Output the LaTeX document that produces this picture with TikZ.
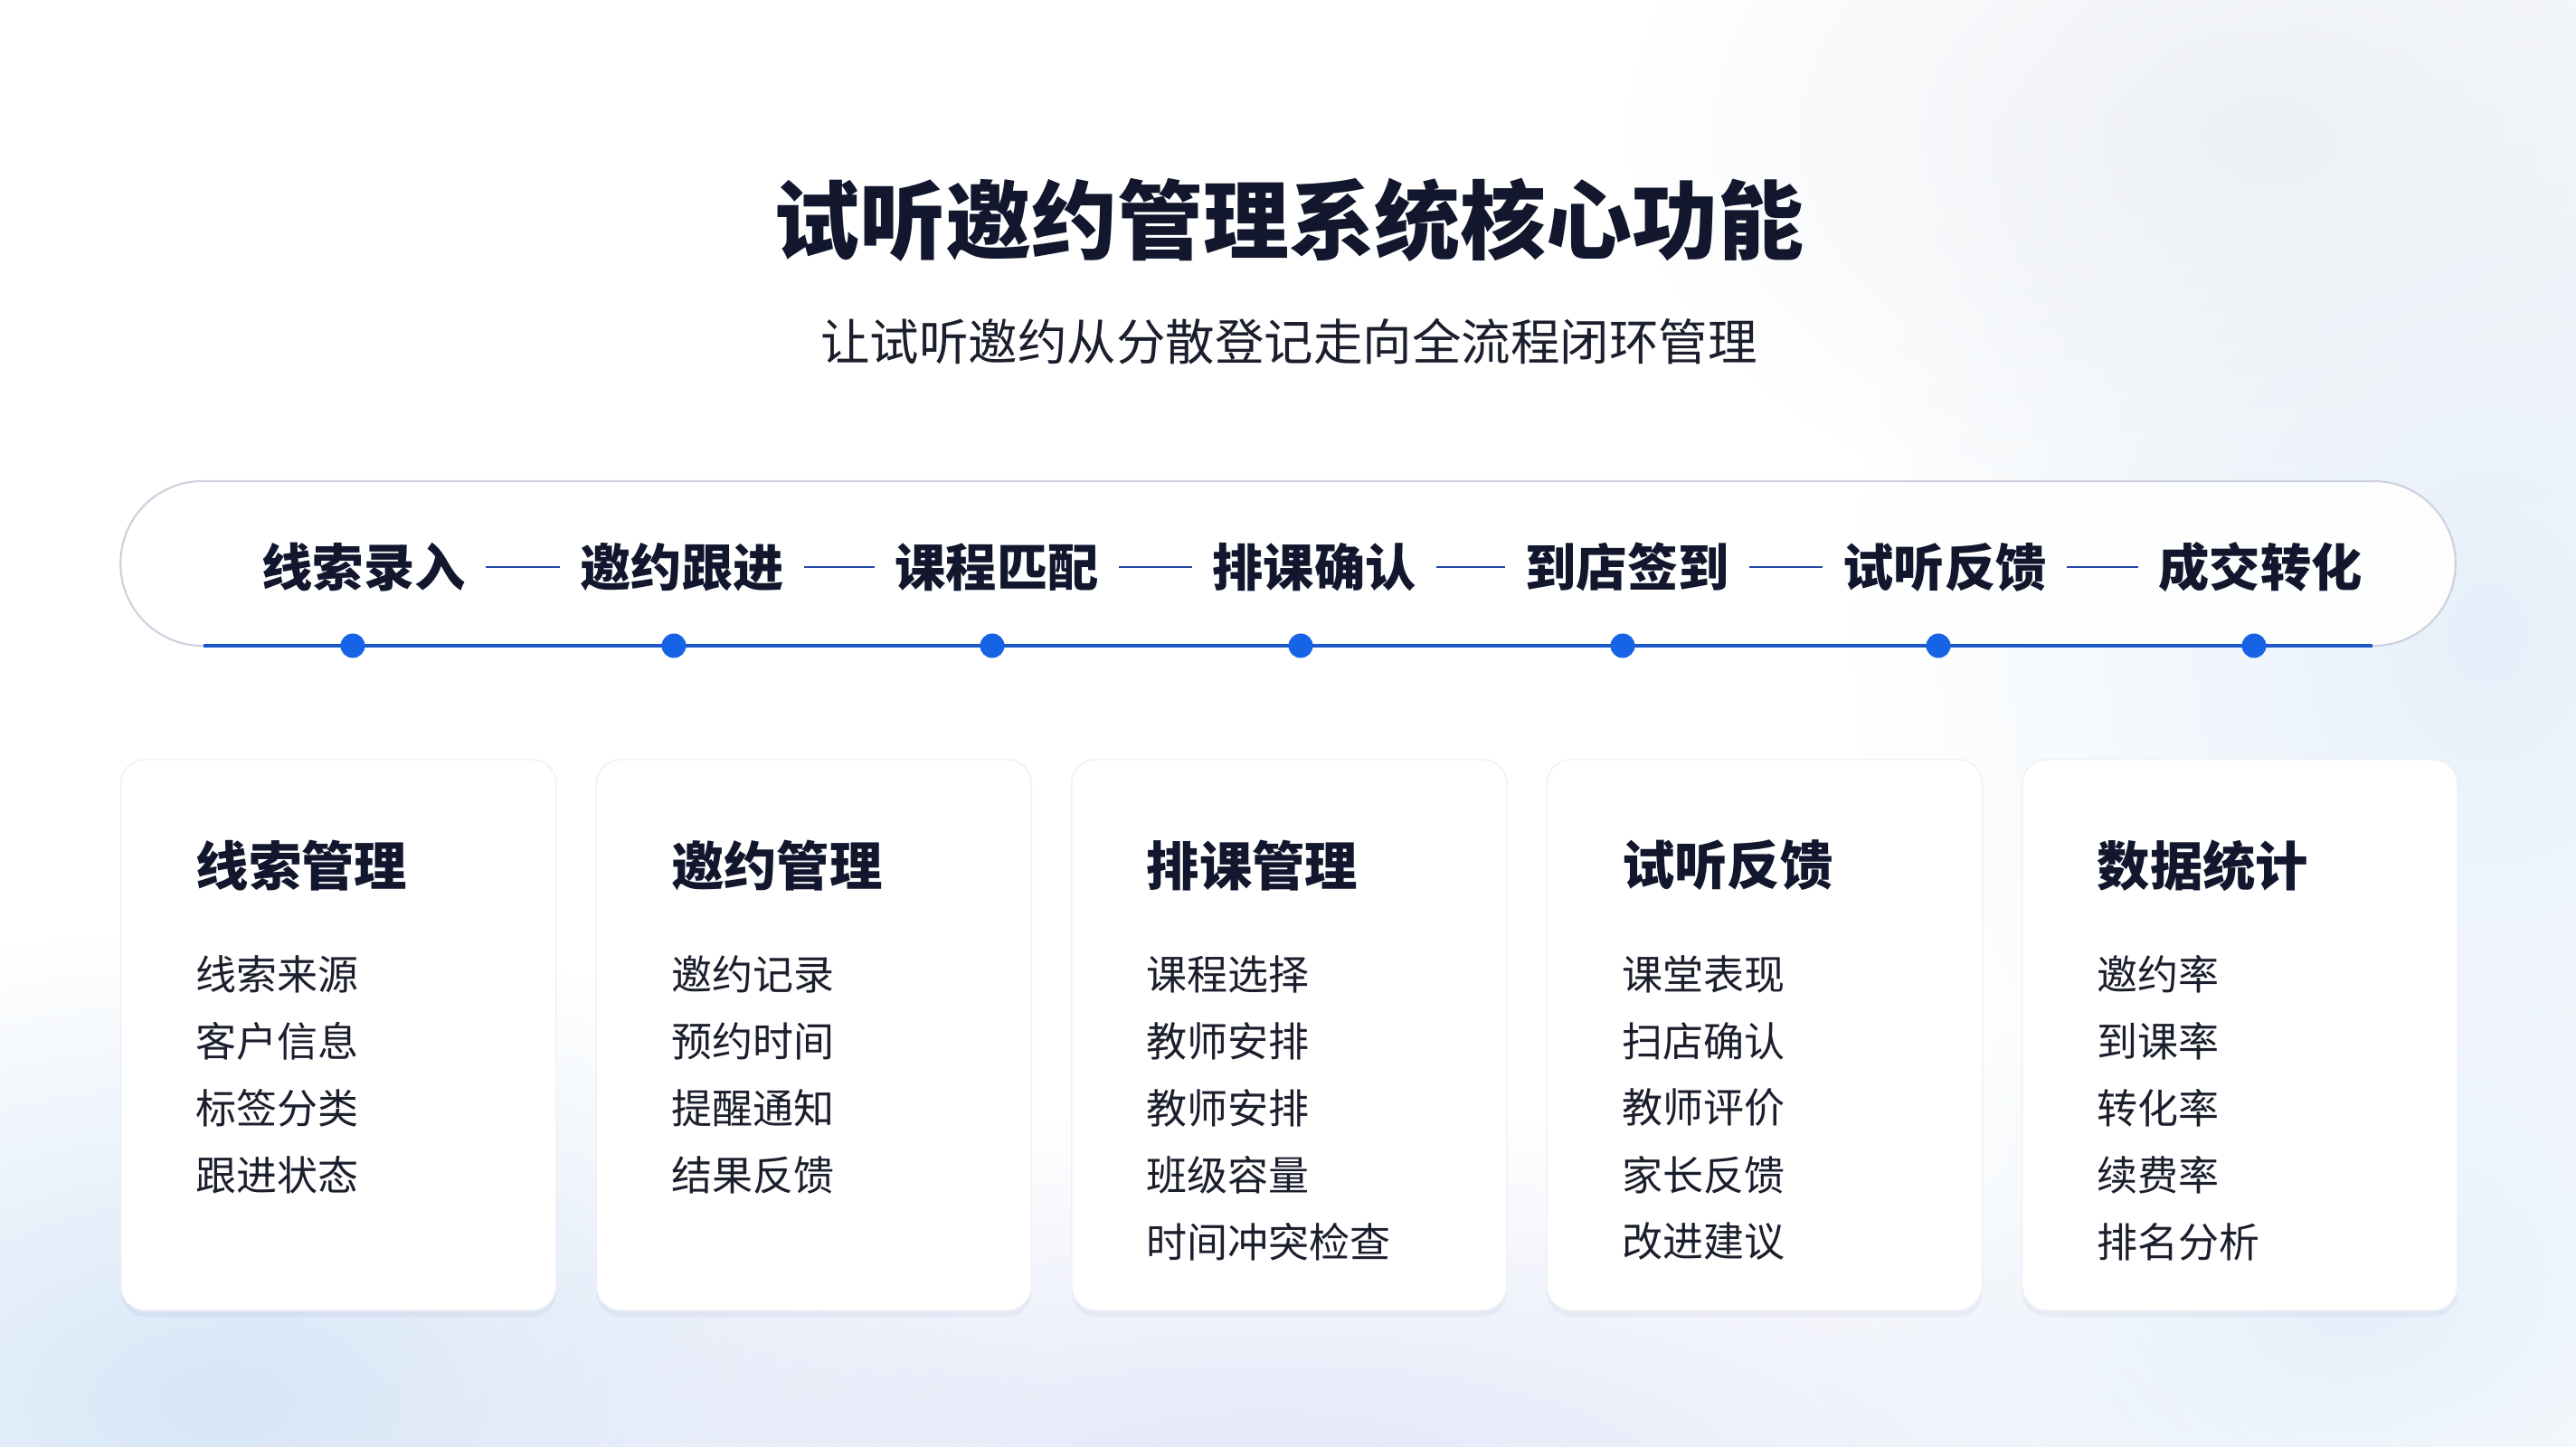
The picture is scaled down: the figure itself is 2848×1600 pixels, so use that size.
\documentclass[tikz,border=0pt]{standalone}
\usepackage{fontspec}
\setmainfont{Noto Sans CJK SC}
\usetikzlibrary{fadings,shadows}
\definecolor{ink}{HTML}{12172E}
\definecolor{txt}{HTML}{1B1E2C}
\definecolor{dotblue}{HTML}{1763E6}
\definecolor{linkblue}{HTML}{2448A8}
\definecolor{basel}{HTML}{1B58C8}
\definecolor{pillgray}{HTML}{CDD1DD}
\definecolor{bgblueA}{HTML}{D6E6F7}
\definecolor{bgblueB}{HTML}{E2E6F8}
\definecolor{bgblueC}{HTML}{E6F0FA}
\definecolor{bggray}{HTML}{EDF0F5}
\tikzfading[name=softblob, inner color=transparent!0, outer color=transparent!100]
\tikzset{
  titletext/.style={font=\fontsize{27}{30}\selectfont\bfseries, text=ink, inner sep=0pt},
  subtext/.style={font=\fontsize{15.5}{18}\selectfont, text=txt, inner sep=0pt},
  stagetext/.style={font=\fontsize{16}{18}\selectfont\bfseries, text=ink, inner sep=0pt},
  linkline/.style={draw=linkblue, line width=0.7pt, shorten <=6.3pt, shorten >=6.3pt},
  stagedot/.style={circle, fill=dotblue, inner sep=0pt, minimum size=0.27cm},
  cardbox/.style={fill=white, draw=bggray, line width=0.4pt, rounded corners=7.7pt,
    minimum width=4.81cm, minimum height=6.09cm, inner sep=0pt,
    drop shadow={shadow xshift=0pt, shadow yshift=-2pt, opacity=0.04, fill=black!60!blue}},
  cardtitle/.style={font=\fontsize{16.6}{19}\selectfont\bfseries, text=ink, inner sep=0pt, anchor=west},
  carditem/.style={font=\fontsize{12.8}{15}\selectfont, text=txt, inner sep=0pt, anchor=west},
}
\begin{document}
\begin{tikzpicture}[x=0.01cm,y=-0.01cm]
\useasboundingbox (0,0) rectangle (2848,1600);
\fill[white] (0,0) rectangle (2848,1600);
% soft background tints
\fill[bgblueA, path fading=softblob] (250,1550) ellipse [x radius=900, y radius=520];
\fill[bgblueB, path fading=softblob] (1400,1650) ellipse [x radius=1300, y radius=420];
\fill[bgblueC, path fading=softblob] (2750,700) ellipse [x radius=700, y radius=900];
\fill[bggray, path fading=softblob] (2500,150) ellipse [x radius=700, y radius=450];
\fill[bgblueC, path fading=softblob] (2600,1450) ellipse [x radius=600, y radius=400];

% title
\node[titletext] (title) at (1425,243) {试听邀约管理系统核心功能};
\node[subtext] (subtitle) at (1425,378) {让试听邀约从分散登记走向全流程闭环管理};

% pipeline pill
\node[draw=pillgray, line width=0.6pt, fill=white, fill opacity=0.92, rounded corners=25.8pt,
      minimum width=25.8cm, minimum height=1.82cm, inner sep=0pt] (pill) at (1424,623) {};
\coordinate (bl) at (225,714);
\coordinate (br) at (2623,714);
\draw[basel, line width=1.2pt] (bl) -- (br);

\foreach \n/\x/\t in {1/402/线索录入, 2/754/邀约跟进, 3/1102/课程匹配, 4/1453/排课确认,
                      5/1799/到店签到, 6/2150/试听反馈, 7/2499/成交转化}{
  \node[stagetext] (s\n) at (\x,627) {\t};
}
\foreach \a/\b in {1/2,2/3,3/4,4/5,5/6,6/7}{
  \draw[linkline] (s\a) -- (s\b);
}
\foreach \n/\x in {1/390, 2/745, 3/1097, 4/1438, 5/1794, 6/2143, 7/2492}{
  \node[stagedot] (d\n) at (\x,714) {};
}

% cards
\foreach \i/\ttl/\L in {0/线索管理/{线索来源,客户信息,标签分类,跟进状态},
                        1/邀约管理/{邀约记录,预约时间,提醒通知,结果反馈},
                        2/排课管理/{课程选择,教师安排,教师安排,班级容量,时间冲突检查},
                        3/试听反馈/{课堂表现,扫店确认,教师评价,家长反馈,改进建议},
                        4/数据统计/{邀约率,到课率,转化率,续费率,排名分析}}{
  \pgfmathsetmacro{\cx}{133+525.5*\i}
  \node[cardbox, anchor=north west] (c\i) at (\cx,839) {};
  \pgfmathsetmacro{\tx}{\cx+83}
  \node[cardtitle] (ct\i) at (\tx,957) {\ttl};
  \foreach \it [count=\j from 0] in \L {
    \pgfmathsetmacro{\iy}{1077+74*\j}
    \node[carditem] (ci\i-\j) at (\tx,\iy) {\it};
  }
}
\end{tikzpicture}
\end{document}
